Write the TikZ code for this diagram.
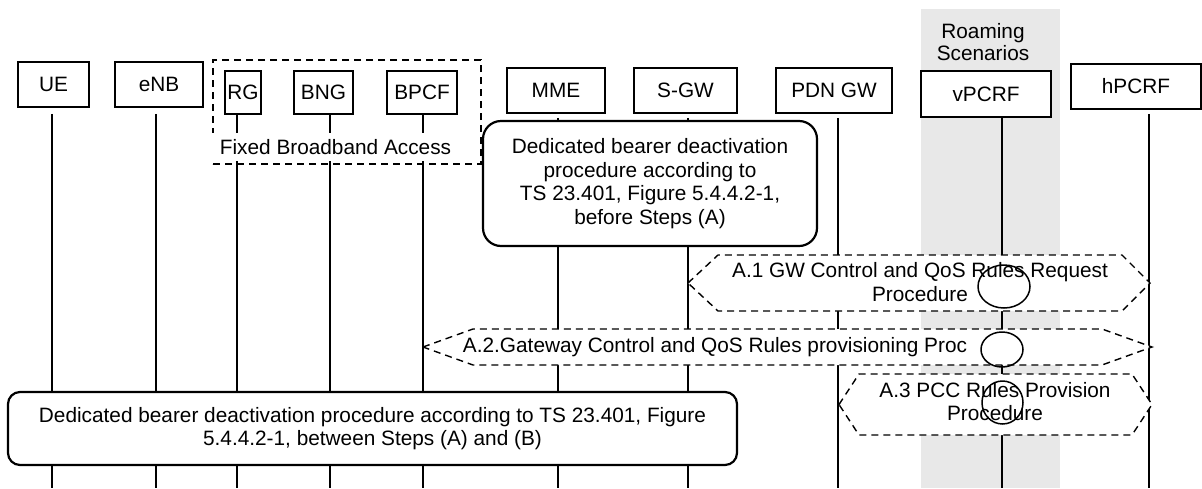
\documentclass[tikz,border=0pt]{standalone}
\usepackage{fontspec}
\setmainfont{Liberation Sans}
\usetikzlibrary{shapes.geometric,calc}
\tikzstyle{entity} = [rectangle, draw=black, line width=1.5pt, fill=white, minimum height=45, inner sep=0pt, text centered]
\tikzstyle{lifeline} = [line width=1.4pt]
\tikzstyle{group} = [rectangle, draw=black, line width=1.3pt, dash pattern=on 7pt off 5pt, inner sep=0pt]
\tikzstyle{procbox} = [rectangle, draw=black, line width=2.2pt, fill=white, align=center, inner sep=0pt]
\tikzstyle{hexproc} = [draw=black, line width=1.4pt, dash pattern=on 7pt off 5pt, fill=white]
\tikzstyle{hop} = [ellipse, draw=black, line width=1.5pt, inner sep=0pt]

\begin{document}
\begin{tikzpicture}[x=1pt, y=-1pt, font=\fontsize{20.8}{23.5}\selectfont]
        \useasboundingbox (0,0) rectangle (1202,488);
        \coordinate (bottom) at (0,488);
        % roaming area
        \fill [gray!18] (921,9) rectangle (1060,488);
        \node (roam) [align=center, font=\fontsize{20.8}{22}\selectfont] at (983,42) {Roaming\\Scenarios};
        % entities
        \node (ue) [entity, minimum width=71] at (53.5,84.5) {UE};
        \node (enb) [entity, minimum width=88] at (159,84.5) {eNB};
        \node (rg) [entity, minimum width=36, minimum height=43] at (243,92.5) {RG};
        \node (bng) [entity, minimum width=59, minimum height=43] at (323.5,92.5) {BNG};
        \node (bpcf) [entity, minimum width=70, minimum height=43] at (422,92.5) {BPCF};
        \node (mme) [entity, minimum width=98] at (556,90.5) {MME};
        \node (sgw) [entity, minimum width=103] at (685.5,90.5) {S-GW};
        \node (pgw) [entity, minimum width=116] at (834,90.5) {PDN GW};
        \node (vpcrf) [entity, minimum width=130, minimum height=46] at (986,94) {vPCRF};
        \node (hpcrf) [entity, minimum width=130] at (1136,86.5) {hPCRF};
        % lifelines
        \draw [lifeline] ($(ue.south)+(-1.5,6)$) -- ($(ue.south |- bottom)+(-1.5,0)$);
        \draw [lifeline] ($(enb.south)+(-3,6)$) -- ($(enb.south |- bottom)+(-3,0)$);
        \draw [lifeline] ($(rg.south)+(-6,0)$) -- ($(rg.south |- bottom)+(-6,0)$);
        \draw [lifeline] ($(bng.south)+(6.5,0)$) -- ($(bng.south |- bottom)+(6.5,0)$);
        \draw [lifeline] ($(bpcf.south)+(1,0)$) -- ($(bpcf.south |- bottom)+(1,0)$);
        \draw [lifeline] ($(mme.south)+(2,4)$) -- ($(mme.south |- bottom)+(2,0)$);
        \draw [lifeline] ($(sgw.south)+(2.5,4)$) -- ($(sgw.south |- bottom)+(2.5,0)$);
        \draw [lifeline] ($(pgw.south)+(4,4)$) -- ($(pgw.south |- bottom)+(4,0)$);
        \draw [lifeline] ($(vpcrf.south)+(16,0)$) -- ($(vpcrf.south |- bottom)+(16,0)$);
        \draw [lifeline] ($(hpcrf.south)+(13,4)$) -- ($(hpcrf.south |- bottom)+(13,0)$);
        % fixed broadband access
        \node (fba) [group, minimum width=268, minimum height=104] at (347,112) {};
        \node (fbalabel) [fill=white, inner xsep=8pt, inner ysep=6pt] at (335.5,147) {Fixed Broadband Access};
        % deactivation procedures
        \node (before) [procbox, rounded corners=18pt, minimum width=334, minimum height=125] at (650,183.5) {Dedicated bearer deactivation\\procedure according to\\TS 23.401, Figure 5.4.4.2-1,\\before Steps (A)};
        \node (between) [procbox, rounded corners=12pt, minimum width=729, minimum height=73] at (372.5,428.5) {Dedicated bearer deactivation procedure according to TS 23.401, Figure\\5.4.4.2-1, between Steps (A) and (B)};
        % A.1 - A.3
        \draw [hexproc] (688,283) -- (718,255) -- (1122,255) -- (1150,283) -- (1122,311) -- (718,311) -- cycle;
        \node (a1) [align=center] at (920,282) {A.1 GW Control and QoS Rules Request\\Procedure};
        \draw [hexproc] (423,347) -- (473,329) -- (1102,329) -- (1152,347) -- (1102,365) -- (473,365) -- cycle;
        \node (a2) at (715,347) {A.2.Gateway Control and QoS Rules provisioning Proc};
        \draw [hexproc] (839,404.5) -- (859,374) -- (1132,374) -- (1152,404.5) -- (1132,435) -- (859,435) -- cycle;
        \node (a3) [align=center] at (995,401.5) {A.3 PCC Rules Provision\\Procedure};
        \node (c1) [hop, minimum width=52, minimum height=43] at (1004,286.5) {};
        \node (c2) [hop, minimum width=42, minimum height=35] at (1002,349.5) {};
        \node (c3) [hop, minimum width=41, minimum height=43] at (1002.5,402.5) {};
    \end{tikzpicture}
\end{document}
